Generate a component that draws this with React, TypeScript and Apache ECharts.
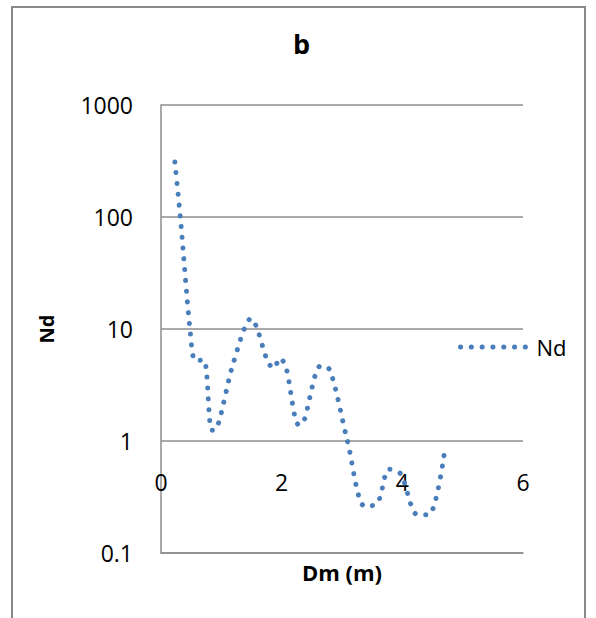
import React, { useEffect, useRef } from "react";
import * as echarts from "echarts";

const dmValues = [0.23, 0.32, 0.48, 0.57, 0.71, 0.84, 0.92, 1.2, 1.5, 1.59, 1.77, 1.87, 1.97, 2.07, 2.28, 2.36, 2.65, 2.8, 3.09, 3.38, 3.59, 3.78, 3.97, 4.25, 4.44, 4.7];
const ndValues = [310, 100, 10, 5.2, 5.3, 1.25, 1.28, 5.0, 12.5, 10.2, 5.1, 4.45, 5.5, 4.6, 1.4, 1.46, 4.7, 4.3, 1.0, 0.26, 0.28, 0.56, 0.51, 0.22, 0.22, 0.8];
const seriesName = "Nd";
const titleText = "b";
const xAxisName = "Dm (m)";
const yAxisName = "Nd";

const FONT = "Open Sans";
const BLUE = "#4a7ebb";
const DOTS = [0.1, 10.7];

export default function App() {
  const ref = useRef<HTMLDivElement>(null);
  useEffect(() => {
    if (!ref.current) return;
    const chart = echarts.init(ref.current, undefined, { renderer: "svg" });
    const data = dmValues.map((x, i) => [x, ndValues[i]]);
    chart.setOption({
      animation: false,
      backgroundColor: "#ffffff",
      title: {
        text: titleText,
        left: 293,
        top: 30,
        padding: 0,
        textStyle: { fontFamily: FONT, fontWeight: "bold", fontSize: 27, color: "#000" },
      },
      grid: { left: 161, right: 73, top: 105, bottom: 65 },
      legend: {
        data: [seriesName],
        left: 458,
        top: 336,
        padding: 0,
        itemWidth: 71,
        itemHeight: 20,
        itemStyle: { color: "rgba(0,0,0,0)", borderWidth: 0, opacity: 0 },
        lineStyle: { color: BLUE, width: 5, type: DOTS, cap: "round" },
        textStyle: { fontFamily: FONT, fontSize: 22, color: "#000" },
      },
      xAxis: {
        type: "value",
        min: 0,
        max: 6,
        interval: 2,
        name: xAxisName,
        nameLocation: "middle",
        nameGap: 8,
        nameTextStyle: { fontFamily: FONT, fontWeight: "bold", fontSize: 22, color: "#000", verticalAlign: "top" },
        axisLine: { show: true, lineStyle: { color: "#8c8c8c", width: 1.5 } },
        axisTick: { show: false },
        splitLine: { show: false },
        axisLabel: { margin: -83, fontFamily: FONT, fontSize: 23, color: "#000" },
      },
      yAxis: {
        type: "log",
        logBase: 10,
        min: 0.1,
        max: 1000,
        name: yAxisName,
        nameLocation: "middle",
        nameGap: 105,
        nameRotate: 90,
        nameTextStyle: { fontFamily: FONT, fontWeight: "bold", fontSize: 20, color: "#000" },
        axisLine: { show: true, lineStyle: { color: "#8c8c8c", width: 1.5 } },
        axisTick: { show: false },
        splitLine: { show: true, lineStyle: { color: "#8c8c8c", width: 1.5 } },
        axisLabel: {
          margin: 28,
          fontFamily: FONT,
          fontSize: 23,
          color: "#000",
          formatter: (v: number) => String(Number(v.toPrecision(3))),
        },
      },
      series: [
        {
          name: seriesName,
          type: "line",
          data,
          smooth: 0.3,
          showSymbol: false,
          symbol: "none",
          color: BLUE,
          lineStyle: { color: BLUE, width: 5, type: DOTS, cap: "round" },
        },
      ],
      graphic: [
        {
          type: "rect",
          silent: true,
          shape: { x: 12, y: 7, width: 573, height: 660 },
          style: { fill: "none", stroke: "#898989", lineWidth: 2 },
        },
      ],
    });
    return () => chart.dispose();
  }, []);
  return <div ref={ref} style={{ position: "fixed", left: 0, top: 0, width: 596, height: 618 }} />;
}
